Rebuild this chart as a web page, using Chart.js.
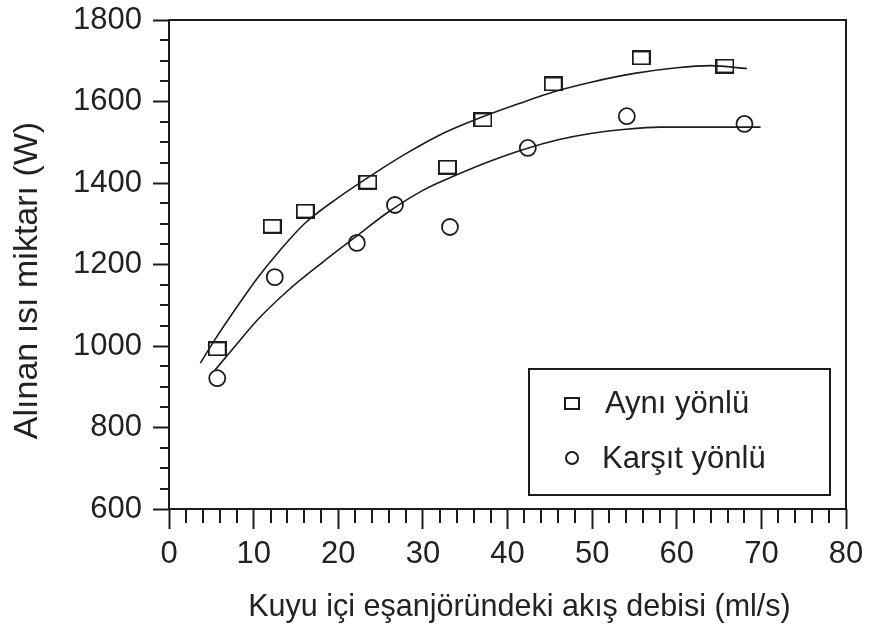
<!DOCTYPE html>
<html>
<head>
<meta charset="utf-8">
<title>Alınan ısı miktarı</title>
<script src="https://cdn.jsdelivr.net/npm/chart.js@4.4.1/dist/chart.umd.min.js"></script>
<style>
  html, body { margin: 0; padding: 0; background: #fff; }
  canvas { display: block; }
</style>
</head>
<body>
<canvas id="chart" width="872" height="633"></canvas>
<script>
const seriesLabels = ['Aynı yönlü', 'Karşıt yönlü'];
const xTitle = 'Kuyu içi eşanjöründeki akış debisi (ml/s)';
const yTitle = 'Alınan ısı miktarı (W)';

// measured points
const ayniX = [5.7, 12.2, 16.1, 23.5, 32.9, 37.1, 45.4, 55.8, 65.7];
const ayniY = [993, 1294, 1331, 1402, 1439, 1555, 1643, 1707, 1687];
const karsitX = [5.7, 12.5, 22.2, 26.7, 33.2, 42.4, 54.1, 68.0];
const karsitY = [921, 1169, 1253, 1346, 1292, 1486, 1564, 1545];

// trend curves
const ayniFitX = [3.7, 5.5, 8, 10.5, 13, 16, 20, 24, 28, 32, 37, 41.5, 45.5, 50, 55, 60, 64, 68.3];
const ayniFitY = [958, 1018, 1095, 1168, 1232, 1300, 1364, 1420, 1472, 1518, 1562, 1596, 1624, 1648, 1669, 1683, 1688, 1681];
const karsitFitX = [5.4, 7.5, 10.5, 14, 18, 22, 26, 30, 34, 38, 42, 46, 50, 54, 58, 63, 69.9];
const karsitFitY = [940, 992, 1065, 1135, 1203, 1267, 1330, 1382, 1420, 1454, 1483, 1506, 1522, 1532, 1537, 1537, 1537];

const xTicks = [0, 10, 20, 30, 40, 50, 60, 70, 80];
const yTicks = [600, 800, 1000, 1200, 1400, 1600, 1800];

const INK = '#1c1c1c';
const TEXT = '#222';
const FONT = "'Liberation Sans', Arial, sans-serif";

function pairs(xs, ys) {
  return xs.map((x, i) => ({ x, y: ys[i] }));
}

function boxMarker(w, h) {
  const c = document.createElement('canvas');
  c.width = w;
  c.height = h;
  const g = c.getContext('2d');
  g.strokeStyle = INK;
  g.lineWidth = 2;
  g.strokeRect(1, 1, w - 2, h - 2);
  return c;
}

// minor ticks, frame box and axis titles
const frame = {
  id: 'frame',
  afterDraw(chart) {
    const { ctx, chartArea: a, scales: { x, y } } = chart;
    ctx.save();
    ctx.strokeStyle = INK;
    ctx.lineWidth = 2;
    ctx.beginPath();
    for (let v = x.min + 2; v < x.max; v += 2) {
      if (v % 10 === 0) continue;
      const px = Math.round(x.getPixelForValue(v));
      ctx.moveTo(px, a.bottom);
      ctx.lineTo(px, a.bottom + 14);
    }
    for (let v = y.min + 50; v < y.max; v += 50) {
      if (v % 200 === 0) continue;
      const py = Math.round(y.getPixelForValue(v));
      ctx.moveTo(a.left - 9, py);
      ctx.lineTo(a.left, py);
    }
    ctx.rect(a.left, a.top, a.right - a.left, a.bottom - a.top);
    ctx.stroke();

    ctx.fillStyle = TEXT;
    ctx.textAlign = 'center';
    ctx.textBaseline = 'middle';
    ctx.font = '30.5px ' + FONT;
    ctx.fillText(xTitle, (a.left + a.right) / 2 + 12, chart.height - 25);
    ctx.translate(28, (a.top + a.bottom) / 2 + 16);
    ctx.rotate(-Math.PI / 2);
    ctx.font = '34px ' + FONT;
    ctx.fillText(yTitle, 0, 0);
    ctx.restore();
  },
};

// boxed legend in the lower right corner
const boxLegend = {
  id: 'boxLegend',
  afterDraw(chart) {
    const { ctx, chartArea: a } = chart;
    const w = 301, h = 126;
    const left = a.right - 16 - w;
    const top = a.bottom - 14 - h;
    ctx.save();
    ctx.strokeStyle = INK;
    ctx.lineWidth = 2;
    ctx.strokeRect(left, top, w, h);
    ctx.fillStyle = TEXT;
    ctx.font = '31px ' + FONT;
    ctx.textBaseline = 'middle';
    const rows = [top + 34, top + 89];
    ctx.strokeRect(left + 36, rows[0] - 5, 14, 11);
    ctx.fillText(seriesLabels[0], left + 76, rows[0] + 1);
    ctx.beginPath();
    ctx.arc(left + 43, rows[1], 6, 0, Math.PI * 2);
    ctx.stroke();
    ctx.fillText(seriesLabels[1], left + 73, rows[1] + 1);
    ctx.restore();
  },
};

const ctx = document.getElementById('chart').getContext('2d');
// eslint-disable-next-line no-unused-vars
const chart = new Chart(ctx, {
  type: 'scatter',
  data: {
    datasets: [
      {
        label: seriesLabels[0],
        data: pairs(ayniX, ayniY),
        pointStyle: boxMarker(19, 15),
        pointRadius: 9,
        borderColor: INK,
        backgroundColor: 'transparent',
      },
      {
        label: seriesLabels[1],
        data: pairs(karsitX, karsitY),
        pointStyle: 'circle',
        pointRadius: 8,
        borderWidth: 1.8,
        borderColor: INK,
        backgroundColor: 'transparent',
      },
      {
        label: seriesLabels[0] + ' eğri',
        data: pairs(ayniFitX, ayniFitY),
        showLine: true,
        pointRadius: 0,
        borderColor: INK,
        borderWidth: 1.6,
        cubicInterpolationMode: 'monotone',
      },
      {
        label: seriesLabels[1] + ' eğri',
        data: pairs(karsitFitX, karsitFitY),
        showLine: true,
        pointRadius: 0,
        borderColor: INK,
        borderWidth: 1.6,
        cubicInterpolationMode: 'monotone',
      },
    ],
  },
  options: {
    responsive: false,
    animation: false,
    devicePixelRatio: 1,
    layout: { padding: { top: 20, right: 26, bottom: 0, left: 0 } },
    plugins: {
      legend: { display: false },
      tooltip: { enabled: false },
    },
    scales: {
      x: {
        type: 'linear',
        min: 0,
        max: 80,
        afterBuildTicks: (s) => { s.ticks = xTicks.map((v) => ({ value: v })); },
        afterFit: (s) => {
          s.height = 124;
          s.paddingLeft = 0;
          s.paddingRight = 0;
        },
        border: { display: false },
        grid: {
          drawOnChartArea: false,
          drawTicks: true,
          tickLength: 20,
          tickWidth: 2,
          tickColor: INK,
        },
        ticks: {
          color: TEXT,
          padding: 7,
          maxRotation: 0,
          callback: (v) => String(v),
          font: { family: FONT, size: 31 },
        },
      },
      y: {
        type: 'linear',
        min: 600,
        max: 1800,
        afterBuildTicks: (s) => { s.ticks = yTicks.map((v) => ({ value: v })); },
        afterFit: (s) => {
          s.width = 169;
          s.paddingTop = 0;
          s.paddingBottom = 0;
        },
        border: { display: false },
        grid: {
          drawOnChartArea: false,
          drawTicks: true,
          tickLength: 16,
          tickWidth: 2,
          tickColor: INK,
        },
        ticks: {
          color: TEXT,
          padding: 11,
          callback: (v) => String(v),
          font: { family: FONT, size: 31 },
        },
      },
    },
  },
  plugins: [frame, boxLegend],
});
</script>
</body>
</html>
